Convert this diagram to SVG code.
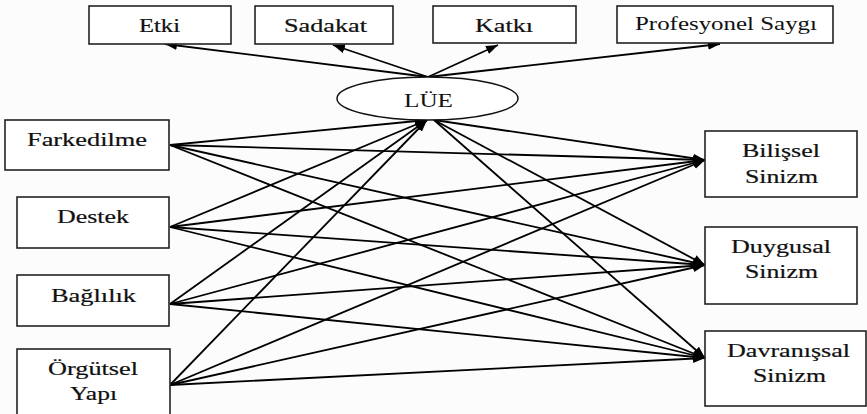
<svg xmlns="http://www.w3.org/2000/svg" width="867" height="414" viewBox="0 0 867 414">
<style>
.box{fill:#fff;stroke:#222;stroke-width:1.6}
.ell{fill:#fff;stroke:#111;stroke-width:1.5}
.t{font-family:'Liberation Serif',serif;font-size:19px;fill:#111;text-anchor:start}
.b{stroke:#111;stroke-width:0.2}
.e{stroke:#000;stroke-width:1.8;fill:none;marker-end:url(#ah)}
</style>
<defs>
<marker id="ah" markerUnits="userSpaceOnUse" markerWidth="14" markerHeight="10" refX="12" refY="4.5" orient="auto">
<path d="M0,0 L12,4.5 L0,9 z" fill="#000"/>
</marker>
</defs>
<rect width="867" height="414" fill="#fcfcfc"/>
<g id="connectors">
<line class="e" x1="428" y1="77" x2="165" y2="44"/>
<line class="e" x1="428" y1="77" x2="333" y2="45"/>
<line class="e" x1="428" y1="77" x2="498" y2="45"/>
<line class="e" x1="428" y1="77" x2="720" y2="44"/>
<line class="e" x1="170" y1="145" x2="427" y2="120"/>
<line class="e" x1="170" y1="227" x2="427" y2="120"/>
<line class="e" x1="170" y1="304" x2="427" y2="120"/>
<line class="e" x1="170" y1="385" x2="427" y2="120"/>
<line class="e" x1="434" y1="120" x2="705" y2="160"/>
<line class="e" x1="434" y1="120" x2="705" y2="265"/>
<line class="e" x1="434" y1="120" x2="705" y2="358"/>
<line class="e" x1="170" y1="145" x2="705" y2="160"/>
<line class="e" x1="170" y1="145" x2="705" y2="265"/>
<line class="e" x1="170" y1="145" x2="705" y2="358"/>
<line class="e" x1="170" y1="227" x2="705" y2="160"/>
<line class="e" x1="170" y1="227" x2="705" y2="265"/>
<line class="e" x1="170" y1="227" x2="705" y2="358"/>
<line class="e" x1="170" y1="304" x2="705" y2="160"/>
<line class="e" x1="170" y1="304" x2="705" y2="265"/>
<line class="e" x1="170" y1="304" x2="705" y2="358"/>
<line class="e" x1="170" y1="385" x2="705" y2="160"/>
<line class="e" x1="170" y1="385" x2="705" y2="265"/>
<line class="e" x1="170" y1="385" x2="705" y2="358"/>
</g>
<g id="etki"><rect class="box" x="89" y="6" width="142" height="38"/><text class="t b" x="139" y="32" textLength="41" lengthAdjust="spacingAndGlyphs">Etki</text></g>
<g id="sadakat"><rect class="box" x="255" y="6" width="138" height="38"/><text class="t b" x="284" y="32" textLength="83" lengthAdjust="spacingAndGlyphs">Sadakat</text></g>
<g id="katki"><rect class="box" x="433" y="6" width="143" height="37"/><text class="t b" x="475" y="32" textLength="58" lengthAdjust="spacingAndGlyphs">Katkı</text></g>
<g id="profesyonel"><rect class="box" x="617" y="6" width="216" height="37"/><text class="t" x="635" y="30" font-size="17" textLength="182" lengthAdjust="spacingAndGlyphs">Profesyonel Saygı</text></g>
<g id="lue"><ellipse class="ell" cx="427.5" cy="98.5" rx="90.5" ry="21.5"/><text class="t" x="404" y="107" textLength="49" lengthAdjust="spacingAndGlyphs">LÜE</text></g>
<g id="farkedilme"><rect class="box" x="5" y="120" width="164" height="50"/><text class="t b" x="27" y="146" textLength="120" lengthAdjust="spacingAndGlyphs">Farkedilme</text></g>
<g id="destek"><rect class="box" x="17" y="197" width="152" height="51"/><text class="t b" x="57" y="223" textLength="72" lengthAdjust="spacingAndGlyphs">Destek</text></g>
<g id="baglilik"><rect class="box" x="17" y="275" width="152" height="51"/><text class="t b" x="51" y="302" textLength="85" lengthAdjust="spacingAndGlyphs">Bağlılık</text></g>
<g id="orgutsel"><rect class="box" x="17" y="349" width="153" height="70"/><text class="t b" x="48" y="375" textLength="90" lengthAdjust="spacingAndGlyphs">Örgütsel</text><text class="t b" x="70" y="400" textLength="47" lengthAdjust="spacingAndGlyphs">Yapı</text></g>
<g id="bilissel"><rect class="box" x="705" y="131" width="152" height="66"/><text class="t b" x="742" y="157" textLength="78" lengthAdjust="spacingAndGlyphs">Bilişsel</text><text class="t b" x="745" y="183" textLength="73" lengthAdjust="spacingAndGlyphs">Sinizm</text></g>
<g id="duygusal"><rect class="box" x="705" y="227" width="152" height="77"/><text class="t b" x="731" y="253" textLength="100" lengthAdjust="spacingAndGlyphs">Duygusal</text><text class="t b" x="745" y="278" textLength="73" lengthAdjust="spacingAndGlyphs">Sinizm</text></g>
<g id="davranissal"><rect class="box" x="705" y="331" width="161" height="75"/><text class="t b" x="727" y="357" textLength="123" lengthAdjust="spacingAndGlyphs">Davranışsal</text><text class="t b" x="753" y="382" textLength="73" lengthAdjust="spacingAndGlyphs">Sinizm</text></g>
</svg>
